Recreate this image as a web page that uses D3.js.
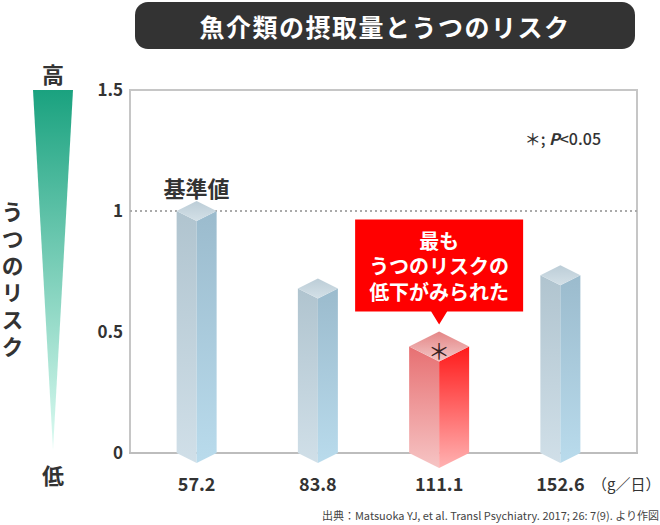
<!DOCTYPE html>
<html><head><meta charset="utf-8">
<script src="https://cdn.jsdelivr.net/npm/d3@7"></script>
<style>
html,body{margin:0;padding:0;background:#fff;}
svg{display:block;font-family:"Noto Sans CJK JP","Noto Sans",sans-serif;}
</style></head>
<body>
<svg id="chart" width="660" height="525"></svg>
<script>
const title = "魚介類の摂取量とうつのリスク";
const categories = ["57.2", "83.8", "111.1", "152.6"];
const values = [1.0, 0.68, 0.44, 0.735];
const highlighted = [false, false, true, false];
const yTicks = [0, 0.5, 1, 1.5];
const yTickLabels = ["0", "0.5", "1", "1.5"];
const referenceValue = 1;
const referenceLabel = "基準値";
const calloutLines = ["最も", "うつのリスクの", "低下がみられた"];
const significanceMark = "＊";
const unitLabel = "（g／日）";
const riskLabel = "うつのリスク";
const riskHigh = "高", riskLow = "低";
const sourceText = "出典：Matsuoka YJ, et al. Transl Psychiatry. 2017; 26: 7(9). より作図";

const svg = d3.select("#chart");
const M = {left:130, right:637, top:90, bottom:453};

const x = d3.scaleBand().domain(categories).range([136, 621]);
const y = d3.scaleLinear().domain([0, 1.5]).range([M.bottom, M.top]);

const defs = svg.append("defs");
function vgrad(id, c0, c1){
  const g = defs.append("linearGradient").attr("id", id).attr("x1",0).attr("y1",0).attr("x2",0).attr("y2",1);
  g.append("stop").attr("offset","0%").attr("stop-color",c0);
  g.append("stop").attr("offset","100%").attr("stop-color",c1);
}
vgrad("gLeftB", "#b0c4cf", "#d0dfe8");
vgrad("gRightB", "#9bbbcd", "#b9dbec");
vgrad("gTopB", "#bccdd7", "#d3e0e7");
vgrad("gLeftR", "#e77072", "#f6c4c4");
vgrad("gRightR", "#ff1a1a", "#ffb2b2");
vgrad("gTopR", "#e48686", "#f3c6c6");
vgrad("gRisk", "#1aa27f", "#dcfbf2");

// Title
svg.append("rect").attr("x",135).attr("y",2).attr("width",500).attr("height",47).attr("rx",13)
  .attr("fill","#333333");
svg.append("text").attr("x",385).attr("y",26).attr("text-anchor","middle").attr("dominant-baseline","central")
  .attr("fill","#fff").attr("font-size",25).attr("font-weight",700).attr("letter-spacing",1.5).text(title);

// Risk indicator
svg.append("polygon").attr("points", [[33,y(1.5)],[73,y(1.5)],[53,450]].map(p=>p.join(",")).join(" "))
  .attr("fill","url(#gRisk)");
svg.append("text").attr("x",53).attr("y",73).attr("text-anchor","middle").attr("dominant-baseline","central")
  .attr("font-size",22).attr("font-weight",700).attr("fill","#333").text(riskHigh);
svg.append("text").attr("x",53).attr("y",474).attr("text-anchor","middle").attr("dominant-baseline","central")
  .attr("font-size",22).attr("font-weight",700).attr("fill","#333").text(riskLow);
svg.append("text").attr("x",12.5).attr("y",201)
  .style("writing-mode","vertical-rl").attr("letter-spacing",5)
  .attr("font-size",22).attr("font-weight",700).attr("fill","#333").text(riskLabel);

// Frame
svg.append("path").attr("d",`M${M.left},${M.bottom}V${M.top}H${M.right}V${M.bottom}`)
  .attr("fill","none").attr("stroke","#c6c6c6").attr("stroke-width",2);
// reference dotted line
svg.append("line").attr("x1",M.left).attr("x2",M.right).attr("y1",y(referenceValue)).attr("y2",y(referenceValue))
  .attr("stroke","#aaaaaa").attr("stroke-width",2).attr("stroke-dasharray","2,3");
// baseline
svg.append("line").attr("x1",M.left-1).attr("x2",M.right+1).attr("y1",M.bottom).attr("y2",M.bottom)
  .attr("stroke","#bdbdbd").attr("stroke-width",2);

// Y axis
const yAxis = d3.axisLeft(y).tickValues(yTicks).tickSize(0).tickPadding(7)
  .tickFormat((d,i)=>yTickLabels[i]);
const ya = svg.append("g").attr("transform",`translate(${M.left},0)`).call(yAxis);
ya.select(".domain").remove();
ya.selectAll("text").attr("font-size",17).attr("font-weight",700).attr("fill","#333")
  .attr("font-family","'Noto Sans CJK JP','Noto Sans',sans-serif");

// X axis labels
const xAxis = d3.axisBottom(x).tickSize(0).tickPadding(0);
const xa = svg.append("g").attr("transform",`translate(0,${M.bottom+30})`).call(xAxis);
xa.select(".domain").remove();
xa.selectAll("text").attr("dy",null).attr("dominant-baseline","central").attr("font-size",18).attr("font-weight",700).attr("fill","#333")
  .attr("font-family","'Noto Sans CJK JP','Noto Sans',sans-serif");
svg.append("text").attr("x",592).attr("y",M.bottom+30).attr("dominant-baseline","central")
  .attr("font-size",15).attr("fill","#333").text(unitLabel);

// Bars
const bars = svg.append("g").selectAll("g").data(categories.map((c,i)=>({c, v:values[i], hl:highlighted[i]}))).join("g");
bars.each(function(d){
  const g = d3.select(this);
  const cx = x(d.c) + x.bandwidth()/2;
  const w = d.hl ? 30 : 20;
  const dep = w/2;
  const yt = y(d.v), yb = y(0);
  const s = d.hl ? "R" : "B";
  g.append("path").attr("d",`M${cx-w},${yt}L${cx},${yt+dep}L${cx},${yb+dep}L${cx-w},${yb}Z`).attr("fill",`url(#gLeft${s})`);
  g.append("path").attr("d",`M${cx},${yt+dep}L${cx+w},${yt}L${cx+w},${yb}L${cx},${yb+dep}Z`).attr("fill",`url(#gRight${s})`);
  g.append("path").attr("d",`M${cx},${yt-dep}L${cx+w},${yt}L${cx},${yt+dep}L${cx-w},${yt}Z`).attr("fill",`url(#gTop${s})`);
  if(d.hl){
    g.append("text").attr("x",cx).attr("y",yt+2).attr("text-anchor","middle").attr("dominant-baseline","central")
      .attr("font-size",22).attr("fill","#3a2222").text(significanceMark);
    // callout
    const tipY = yt - dep - 7;
    const rb = tipY - 13, rt = rb - 92;
    g.append("path").attr("d",`M${cx-84},${rt}H${cx+84}V${rb}H${cx+8}L${cx},${tipY}L${cx-8},${rb}H${cx-84}Z`).attr("fill","#ff0000");
    const ct = g.append("text").attr("x",cx).attr("y",rt+29).attr("text-anchor","middle")
      .attr("font-size",20).attr("font-weight",700).attr("fill","#fff");
    ct.selectAll("tspan").data(calloutLines).join("tspan")
      .attr("x",cx).attr("dy",(t,i)=>i===0?0:25.5).text(t=>t);
  }
});

// reference label
svg.append("text").attr("x",x(categories[0])+x.bandwidth()/2).attr("y",y(referenceValue)-24)
  .attr("text-anchor","middle").attr("dominant-baseline","central")
  .attr("font-size",22).attr("font-weight",700).attr("fill","#333").text(referenceLabel);

// significance legend
const lg = svg.append("text").attr("x",601).attr("y",138).attr("text-anchor","end").attr("dominant-baseline","central")
  .attr("font-size",16).attr("font-weight",500).attr("fill","#333");
lg.append("tspan").text(significanceMark + "; ");
lg.append("tspan").attr("font-style","italic").attr("font-weight",700).text("P");
lg.append("tspan").text("<0.05");

// Source
svg.append("text").attr("x",659).attr("y",515).attr("text-anchor","end").attr("dominant-baseline","central")
  .attr("font-size",11).attr("fill","#444").text(sourceText);
</script>
</body></html>
